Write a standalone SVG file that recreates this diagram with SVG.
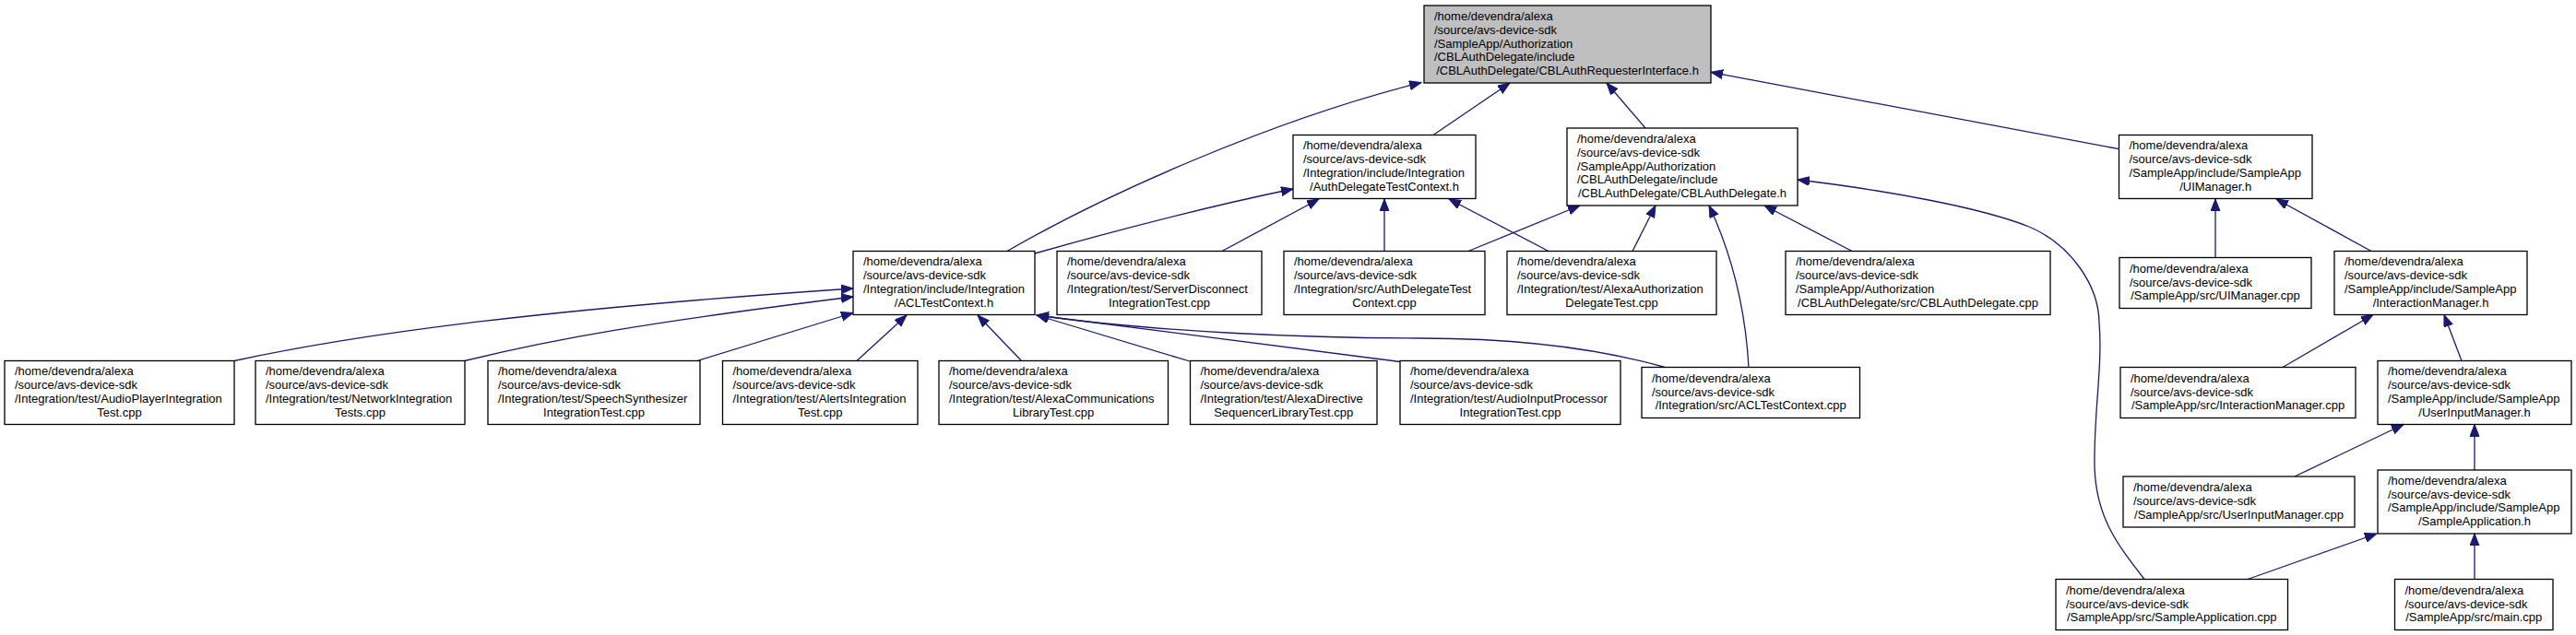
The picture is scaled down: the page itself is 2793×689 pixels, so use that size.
<svg xmlns="http://www.w3.org/2000/svg" width="2793" height="689" viewBox="0 0 2793 689">
<style>
.n rect{fill:#ffffff;stroke:#000000;stroke-width:1.3}
.root rect{fill:#bfbfbf}
text{font-family:"Liberation Sans",Arial,Helvetica,sans-serif;font-size:13px;fill:#000000}
.c{text-anchor:middle}
.e path{fill:none;stroke:#191970;stroke-width:1.3;marker-end:url(#ah)}
</style>
<defs>
<marker id="ah" markerUnits="userSpaceOnUse" markerWidth="14" markerHeight="11" refX="13" refY="5" orient="auto">
<path d="M0,0 L13,5 L0,10 z" fill="#191970" stroke="#191970" stroke-width="1"/>
</marker>
</defs>
<rect width="2793" height="689" fill="#ffffff"/>
<g id="connectors" class="e">
<path d="M1092,272.5 C1200,210 1380,130 1541,89.5"/>
<path d="M1122,275 C1210,250 1310,224 1402,205"/>
<path d="M1554,146.5 L1637,90"/>
<path d="M1784,139 L1742,90"/>
<path d="M2297.5,161.7 L1855,78.3"/>
<path d="M1325,272.5 L1430,216"/>
<path d="M1501,272.5 L1501,216"/>
<path d="M1679,272.5 L1571,216"/>
<path d="M1592,272.5 L1713,223"/>
<path d="M1770,272.5 L1795,223"/>
<path d="M1896,398.5 C1893,345 1882,285 1853,223"/>
<path d="M2008,272.5 L1913,223"/>
<path d="M2325,628.5 C2295,590 2272,560 2271,505 C2270,450 2280,395 2276,351 C2276,310 2245,265 2200,246 C2150,226 2050,207 1949,195"/>
<path d="M2402,279.5 L2402,216"/>
<path d="M2571,272.5 L2468,216"/>
<path d="M2475,398.5 L2573,341.5"/>
<path d="M2669,391.5 L2650,341.5"/>
<path d="M2488,517 L2606,460.5"/>
<path d="M2683,510 L2683,460.5"/>
<path d="M2437,628.5 L2577,579"/>
<path d="M2683,628.5 L2683,579"/>
<path d="M254,391.5 C400,360 600,335 925,313"/>
<path d="M504,391.5 C600,368 700,350 925,322"/>
<path d="M756,391.5 L925,339.5"/>
<path d="M929,391.5 L983,342"/>
<path d="M1107.5,391.5 L1060,342"/>
<path d="M1290,392 L1124,342"/>
<path d="M1518,392.5 L1124,342"/>
<path d="M1805,398.5 C1740,380 1650,367 1540,367 C1420,367 1250,360 1124,342"/>
</g>
<g id="root" class="n root">
<rect x="1544" y="6" width="311" height="84"/>
<text><tspan x="1555" y="21.9">/home/devendra/alexa</tspan><tspan x="1555" y="36.7">/source/avs-device-sdk</tspan><tspan x="1555" y="51.5">/SampleApp/Authorization</tspan><tspan x="1555" y="66.3">/CBLAuthDelegate/include</tspan></text>
<text class="c" x="1699.5" y="81.1">/CBLAuthDelegate/CBLAuthRequesterInterface.h</text>
</g>
<g id="authDelegateTestContext_h" class="n">
<rect x="1402" y="146.5" width="198" height="69"/>
<text><tspan x="1413" y="162.3">/home/devendra/alexa</tspan><tspan x="1413" y="177.1">/source/avs-device-sdk</tspan><tspan x="1413" y="191.9">/Integration/include/Integration</tspan></text>
<text class="c" x="1501" y="206.7">/AuthDelegateTestContext.h</text>
</g>
<g id="cblAuthDelegate_h" class="n">
<rect x="1699" y="139" width="250" height="84"/>
<text><tspan x="1710" y="154.9">/home/devendra/alexa</tspan><tspan x="1710" y="169.7">/source/avs-device-sdk</tspan><tspan x="1710" y="184.5">/SampleApp/Authorization</tspan><tspan x="1710" y="199.3">/CBLAuthDelegate/include</tspan></text>
<text class="c" x="1824" y="214.1">/CBLAuthDelegate/CBLAuthDelegate.h</text>
</g>
<g id="uiManager_h" class="n">
<rect x="2297.5" y="146.5" width="209.5" height="69"/>
<text><tspan x="2308.5" y="162.3">/home/devendra/alexa</tspan><tspan x="2308.5" y="177.1">/source/avs-device-sdk</tspan><tspan x="2308.5" y="191.9">/SampleApp/include/SampleApp</tspan></text>
<text class="c" x="2402.2" y="206.7">/UIManager.h</text>
</g>
<g id="aclTestContext_h" class="n">
<rect x="925" y="272.5" width="197" height="69"/>
<text><tspan x="936" y="288.3">/home/devendra/alexa</tspan><tspan x="936" y="303.1">/source/avs-device-sdk</tspan><tspan x="936" y="317.9">/Integration/include/Integration</tspan></text>
<text class="c" x="1023.5" y="332.7">/ACLTestContext.h</text>
</g>
<g id="serverDisconnect_cpp" class="n">
<rect x="1146" y="272.5" width="222" height="69"/>
<text><tspan x="1157" y="288.3">/home/devendra/alexa</tspan><tspan x="1157" y="303.1">/source/avs-device-sdk</tspan><tspan x="1157" y="317.9">/Integration/test/ServerDisconnect</tspan></text>
<text class="c" x="1257" y="332.7">IntegrationTest.cpp</text>
</g>
<g id="authDelegateTestContext_cpp" class="n">
<rect x="1392" y="272.5" width="218" height="69"/>
<text><tspan x="1403" y="288.3">/home/devendra/alexa</tspan><tspan x="1403" y="303.1">/source/avs-device-sdk</tspan><tspan x="1403" y="317.9">/Integration/src/AuthDelegateTest</tspan></text>
<text class="c" x="1501" y="332.7">Context.cpp</text>
</g>
<g id="alexaAuthorizationDelegateTest_cpp" class="n">
<rect x="1634" y="272.5" width="227" height="69"/>
<text><tspan x="1645" y="288.3">/home/devendra/alexa</tspan><tspan x="1645" y="303.1">/source/avs-device-sdk</tspan><tspan x="1645" y="317.9">/Integration/test/AlexaAuthorization</tspan></text>
<text class="c" x="1747.5" y="332.7">DelegateTest.cpp</text>
</g>
<g id="cblAuthDelegate_cpp" class="n">
<rect x="1936" y="272.5" width="287" height="69"/>
<text><tspan x="1947" y="288.3">/home/devendra/alexa</tspan><tspan x="1947" y="303.1">/source/avs-device-sdk</tspan><tspan x="1947" y="317.9">/SampleApp/Authorization</tspan></text>
<text class="c" x="2079.5" y="332.7">/CBLAuthDelegate/src/CBLAuthDelegate.cpp</text>
</g>
<g id="uiManager_cpp" class="n">
<rect x="2298" y="279.5" width="208" height="55"/>
<text><tspan x="2309" y="295.7">/home/devendra/alexa</tspan><tspan x="2309" y="310.5">/source/avs-device-sdk</tspan></text>
<text class="c" x="2402" y="325.3">/SampleApp/src/UIManager.cpp</text>
</g>
<g id="interactionManager_h" class="n">
<rect x="2531" y="272.5" width="209" height="69"/>
<text><tspan x="2542" y="288.3">/home/devendra/alexa</tspan><tspan x="2542" y="303.1">/source/avs-device-sdk</tspan><tspan x="2542" y="317.9">/SampleApp/include/SampleApp</tspan></text>
<text class="c" x="2635.5" y="332.7">/InteractionManager.h</text>
</g>
<g id="audioPlayerIntegrationTest_cpp" class="n">
<rect x="5" y="391.5" width="249" height="69"/>
<text><tspan x="16" y="407.3">/home/devendra/alexa</tspan><tspan x="16" y="422.1">/source/avs-device-sdk</tspan><tspan x="16" y="436.9">/Integration/test/AudioPlayerIntegration</tspan></text>
<text class="c" x="129.5" y="451.7">Test.cpp</text>
</g>
<g id="networkIntegrationTests_cpp" class="n">
<rect x="277" y="391.5" width="227" height="69"/>
<text><tspan x="288" y="407.3">/home/devendra/alexa</tspan><tspan x="288" y="422.1">/source/avs-device-sdk</tspan><tspan x="288" y="436.9">/Integration/test/NetworkIntegration</tspan></text>
<text class="c" x="390.5" y="451.7">Tests.cpp</text>
</g>
<g id="speechSynthesizerIntegrationTest_cpp" class="n">
<rect x="529" y="391.5" width="230" height="69"/>
<text><tspan x="540" y="407.3">/home/devendra/alexa</tspan><tspan x="540" y="422.1">/source/avs-device-sdk</tspan><tspan x="540" y="436.9">/Integration/test/SpeechSynthesizer</tspan></text>
<text class="c" x="644" y="451.7">IntegrationTest.cpp</text>
</g>
<g id="alertsIntegrationTest_cpp" class="n">
<rect x="783.5" y="391.5" width="211.5" height="69"/>
<text><tspan x="794.5" y="407.3">/home/devendra/alexa</tspan><tspan x="794.5" y="422.1">/source/avs-device-sdk</tspan><tspan x="794.5" y="436.9">/Integration/test/AlertsIntegration</tspan></text>
<text class="c" x="889.2" y="451.7">Test.cpp</text>
</g>
<g id="alexaCommunicationsLibraryTest_cpp" class="n">
<rect x="1018" y="391.5" width="248.5" height="69"/>
<text><tspan x="1029" y="407.3">/home/devendra/alexa</tspan><tspan x="1029" y="422.1">/source/avs-device-sdk</tspan><tspan x="1029" y="436.9">/Integration/test/AlexaCommunications</tspan></text>
<text class="c" x="1142.2" y="451.7">LibraryTest.cpp</text>
</g>
<g id="alexaDirectiveSequencerLibraryTest_cpp" class="n">
<rect x="1290.5" y="391.5" width="202.5" height="69"/>
<text><tspan x="1301.5" y="407.3">/home/devendra/alexa</tspan><tspan x="1301.5" y="422.1">/source/avs-device-sdk</tspan><tspan x="1301.5" y="436.9">/Integration/test/AlexaDirective</tspan></text>
<text class="c" x="1391.7" y="451.7">SequencerLibraryTest.cpp</text>
</g>
<g id="audioInputProcessorIntegrationTest_cpp" class="n">
<rect x="1518" y="391.5" width="239" height="69"/>
<text><tspan x="1529" y="407.3">/home/devendra/alexa</tspan><tspan x="1529" y="422.1">/source/avs-device-sdk</tspan><tspan x="1529" y="436.9">/Integration/test/AudioInputProcessor</tspan></text>
<text class="c" x="1637.5" y="451.7">IntegrationTest.cpp</text>
</g>
<g id="aclTestContext_cpp" class="n">
<rect x="1780" y="398.5" width="236.5" height="55"/>
<text><tspan x="1791" y="414.7">/home/devendra/alexa</tspan><tspan x="1791" y="429.5">/source/avs-device-sdk</tspan></text>
<text class="c" x="1898.2" y="444.3">/Integration/src/ACLTestContext.cpp</text>
</g>
<g id="interactionManager_cpp" class="n">
<rect x="2299" y="398.5" width="255" height="55"/>
<text><tspan x="2310" y="414.7">/home/devendra/alexa</tspan><tspan x="2310" y="429.5">/source/avs-device-sdk</tspan></text>
<text class="c" x="2426.5" y="444.3">/SampleApp/src/InteractionManager.cpp</text>
</g>
<g id="userInputManager_h" class="n">
<rect x="2578" y="391.5" width="210" height="69"/>
<text><tspan x="2589" y="407.3">/home/devendra/alexa</tspan><tspan x="2589" y="422.1">/source/avs-device-sdk</tspan><tspan x="2589" y="436.9">/SampleApp/include/SampleApp</tspan></text>
<text class="c" x="2683" y="451.7">/UserInputManager.h</text>
</g>
<g id="userInputManager_cpp" class="n">
<rect x="2302" y="517" width="251" height="55"/>
<text><tspan x="2313" y="533.2">/home/devendra/alexa</tspan><tspan x="2313" y="548">/source/avs-device-sdk</tspan></text>
<text class="c" x="2427.5" y="562.8">/SampleApp/src/UserInputManager.cpp</text>
</g>
<g id="sampleApplication_h" class="n">
<rect x="2578" y="510" width="210" height="69"/>
<text><tspan x="2589" y="525.8">/home/devendra/alexa</tspan><tspan x="2589" y="540.6">/source/avs-device-sdk</tspan><tspan x="2589" y="555.4">/SampleApp/include/SampleApp</tspan></text>
<text class="c" x="2683" y="570.2">/SampleApplication.h</text>
</g>
<g id="sampleApplication_cpp" class="n">
<rect x="2229" y="628.5" width="251.5" height="55"/>
<text><tspan x="2240" y="644.7">/home/devendra/alexa</tspan><tspan x="2240" y="659.5">/source/avs-device-sdk</tspan></text>
<text class="c" x="2354.7" y="674.3">/SampleApp/src/SampleApplication.cpp</text>
</g>
<g id="main_cpp" class="n">
<rect x="2596.5" y="628.5" width="171.5" height="55"/>
<text><tspan x="2607.5" y="644.7">/home/devendra/alexa</tspan><tspan x="2607.5" y="659.5">/source/avs-device-sdk</tspan></text>
<text class="c" x="2682.2" y="674.3">/SampleApp/src/main.cpp</text>
</g>
</svg>
